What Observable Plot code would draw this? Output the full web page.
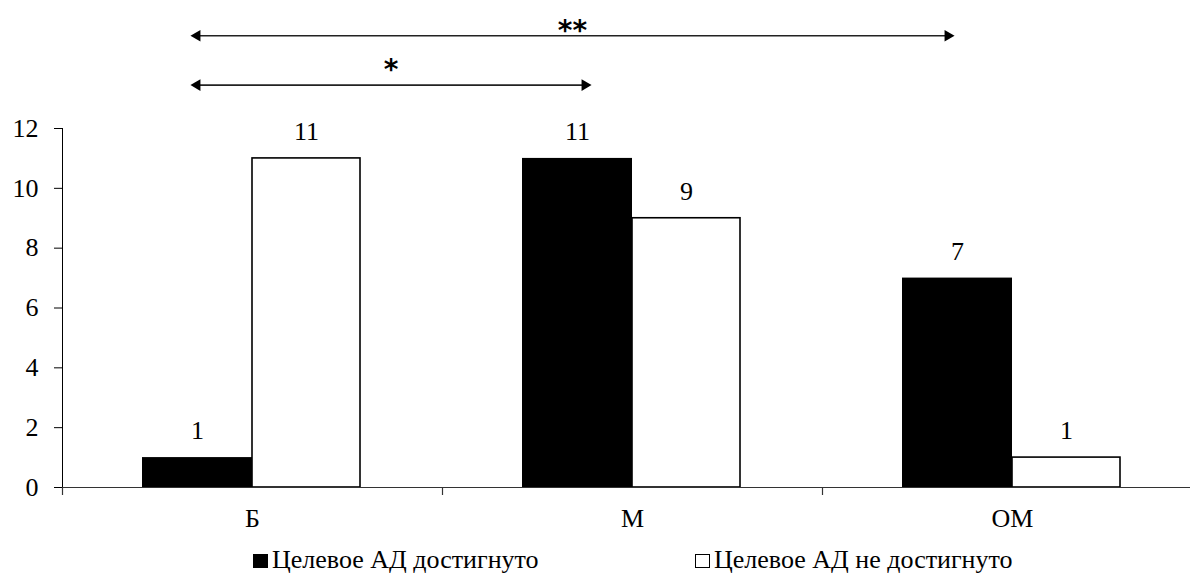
<!DOCTYPE html>
<html><head><meta charset="utf-8">
<script src="https://cdn.jsdelivr.net/npm/d3@7"></script>
<script src="https://cdn.jsdelivr.net/npm/@observablehq/plot@0.6"></script>
<style>
body{margin:0;background:#fff;}
#legend{position:relative;width:1190px;height:46px;font-family:"Liberation Serif","Times New Roman",serif;font-size:26px;line-height:26px;color:#000}
.sw{position:absolute;width:13px;height:12px;border:1px solid #000;top:24px}
.lt{position:absolute;top:17px;white-space:nowrap}
</style></head><body>
<div id="chart"></div>
<div id="legend"></div>
<script>
// ---- data ----
const categories = ["Б", "М", "ОМ"];
const achieved = [1, 11, 7];
const notAchieved = [11, 9, 1];
const seriesNames = ["Целевое АД достигнуто", "Целевое АД не достигнуто"];
const seriesColors = ["#000", "#fff"];
const yTicks = [0, 2, 4, 6, 8, 10, 12];
const comparisonFrom = ["Б", "Б"];
const comparisonTo = ["М", "ОМ"];
const comparisonLabels = ["*", "**"];
const comparisonLevels = [13.45, 15.1];

// ---- tables built from arrays ----
const rows = categories.map((c, i) => ({category: c, achieved: achieved[i], notAchieved: notAchieved[i]}));
const comparisons = comparisonFrom.map((f, i) => ({from: f, to: comparisonTo[i], label: comparisonLabels[i], level: comparisonLevels[i]}));

// ---- layout ----
const xRange = [62, 1202];
const band = (xRange[1] - xRange[0]) / categories.length;
const font = "'Liberation Serif', 'Times New Roman', serif";
const leftTip = -64;                 // arrow tip offset from band centre (px)
const rightTips = [-39, -56];        // per comparison
const headR = 5.5, headOff = 8.6;
const starDy = [-15, -5];

const arrowMarks = comparisons.flatMap((c, k) => {
  const span = band * (categories.indexOf(c.to) - categories.indexOf(c.from));
  return [
    Plot.ruleY([c], {x1: "from", x2: "to", y: "level", stroke: "#222", strokeWidth: 1.6,
      insetLeft: band / 2 + leftTip + headOff, insetRight: band / 2 - rightTips[k] + headOff}),
    Plot.dot([c], {x: "from", y: "level", symbol: "triangle2", r: headR, rotate: -90, fill: "#000", stroke: "none", dx: leftTip + headOff}),
    Plot.dot([c], {x: "to", y: "level", symbol: "triangle2", r: headR, rotate: 90, fill: "#000", stroke: "none", dx: rightTips[k] - headOff}),
    Plot.text([c], {x: "from", y: "level", text: "label", dx: (leftTip + span + rightTips[k]) / 2, dy: starDy[k],
      fontFamily: "DejaVu Sans", fontSize: 28, fontWeight: "bold", fill: "#000"})
  ];
});

const chart = Plot.plot({
  width: 1190,
  height: 530,
  marginLeft: 62,
  marginRight: 0,
  marginTop: 128,
  marginBottom: 43,
  style: {fontFamily: font, fontSize: "26px", color: "#000", background: "#fff", overflow: "visible"},
  x: {domain: categories, range: xRange, padding: 0, tickSize: 0, tickPadding: 21.5, label: null},
  y: {domain: [0, 12], ticks: yTicks, tickSize: 8, tickPadding: 16, label: null, line: true},
  marks: [
    Plot.barY(rows, {x: "category", y: "achieved", fill: seriesColors[0], insetLeft: 80, insetRight: 190}),
    Plot.barY(rows, {x: "category", y: "notAchieved", fill: seriesColors[1], stroke: "#000", strokeWidth: 1.6, insetLeft: 190, insetRight: 82}),
    Plot.ruleY([0], {stroke: "#333", strokeWidth: 1.2}),
    Plot.ruleX(categories, {x: d => d, y1: 0, y2: 0, insetBottom: -8, dx: -band / 2, stroke: "#333", strokeWidth: 1.2}),
    Plot.text(rows, {x: "category", y: "achieved", text: "achieved", dx: -55, dy: -26.5, fontSize: 26, fill: "#000"}),
    Plot.text(rows, {x: "category", y: "notAchieved", text: "notAchieved", dx: 54, dy: -26.5, fontSize: 26, fill: "#000"}),
    ...arrowMarks
  ]
});
document.getElementById("chart").appendChild(chart);

// ---- legend ----
const legend = document.getElementById("legend");
const legendX = [253, 695];
seriesNames.forEach((name, i) => {
  const sw = document.createElement("span");
  sw.className = "sw";
  sw.style.left = legendX[i] + "px";
  sw.style.background = seriesColors[i];
  legend.appendChild(sw);
  const t = document.createElement("span");
  t.className = "lt";
  t.style.left = (legendX[i] + 19) + "px";
  t.textContent = name;
  legend.appendChild(t);
});
</script>
</body></html>
